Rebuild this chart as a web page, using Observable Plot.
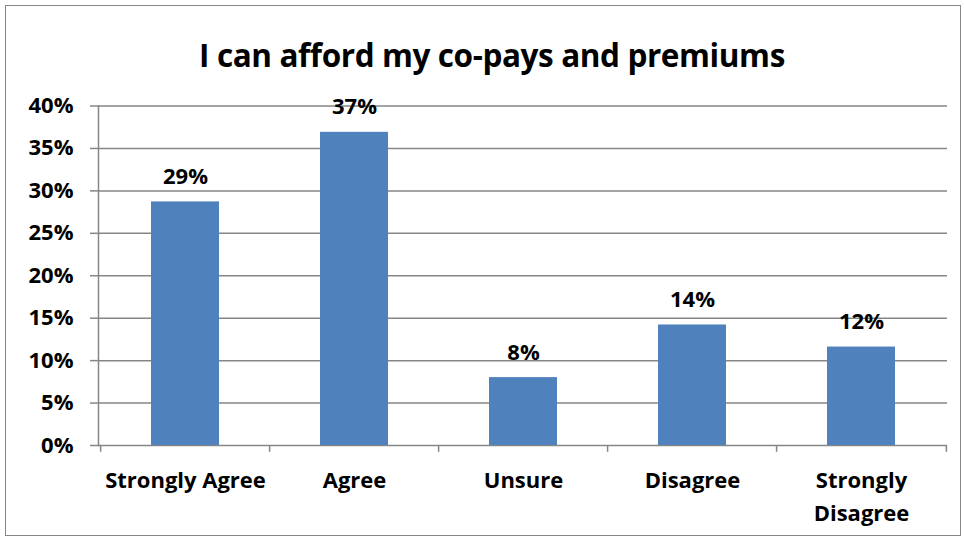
<!DOCTYPE html>
<html>
<head>
<meta charset="utf-8">
<script src="https://cdn.jsdelivr.net/npm/d3@7"></script>
<script src="https://cdn.jsdelivr.net/npm/@observablehq/plot@0.6"></script>
<style>
  html, body { margin: 0; padding: 0; background: #fff; }
  #wrap { position: relative; width: 964px; height: 541px; overflow: hidden; font-family: "Open Sans", sans-serif; }
  #border { position: absolute; left: 5px; top: 5px; width: 956px; height: 531px; border: 1px solid #868686; box-sizing: border-box; }
  #title { position: absolute; left: 0; width: 984px; top: 33px; text-align: center; font-weight: 700; font-size: 31.5px; line-height: 44px; color: #000; letter-spacing: -0.4px; }
  #chart { position: absolute; left: 0; top: 0; }
</style>
</head>
<body>
<div id="wrap">
  <div id="border"></div>
  <div id="chart"></div>
  <div id="title"></div>
</div>
<script>
const titleText = "I can afford my co-pays and premiums";
const categories = ["Strongly Agree", "Agree", "Unsure", "Disagree", "Strongly Disagree"];
const categoryLabels = ["Strongly Agree", "Agree", "Unsure", "Disagree", "Strongly\nDisagree"];
const values = [0.287, 0.369, 0.080, 0.142, 0.116];
const yTicks = [0, 0.05, 0.10, 0.15, 0.20, 0.25, 0.30, 0.35, 0.40];

document.getElementById("title").textContent = titleText;

const data = categories.map((c, i) => ({cat: c, label: categoryLabels[i], value: values[i]}));
const grid = "#868686";
const font = "Open Sans, sans-serif";
const W = 964, H = 541, mL = 98, mR = 17;
const step = (W - mL - mR) / categories.length;
const fs = 22;

const chart = Plot.plot({
  width: W,
  height: H,
  marginLeft: mL,
  marginRight: mR,
  marginTop: 105.5,
  marginBottom: 96,
  style: {fontFamily: font, color: "#000", background: "transparent"},
  x: {domain: categories, paddingInner: 0.6, paddingOuter: 0.3, axis: null},
  y: {domain: [0, 0.40], ticks: yTicks, axis: null},
  marks: [
    Plot.ruleY(yTicks, {y: d => d, stroke: grid, strokeWidth: 1.5}),
    Plot.axisY({ticks: yTicks, tickSize: 8, tickPadding: 17, stroke: grid, strokeWidth: 1.5, label: null,
      tickFormat: d => Math.round(d * 100) + "%", fontSize: fs, fontWeight: "bold", fill: "#000"}),
    Plot.frame({anchor: "left", stroke: grid, strokeWidth: 1.5}),
    Plot.ruleX(categories, {x: d => d, dx: -step / 2, y1: 0, y2: -0.008, stroke: grid, strokeWidth: 1.5}),
    Plot.ruleX(categories.slice(-1), {x: d => d, dx: step / 2, y1: 0, y2: -0.008, stroke: grid, strokeWidth: 1.5}),
    Plot.barY(data, {x: "cat", y: "value", fill: "#4F81BD"}),
    Plot.text(data, {x: "cat", y: "value", text: d => Math.round(d.value * 100) + "%", dy: -25,
      lineAnchor: "middle", fontSize: fs, fontWeight: "bold", fill: "#000"}),
    Plot.text(data, {x: "cat", y: 0, text: "label", dy: 19, lineAnchor: "top", lineHeight: 1.5,
      fontSize: fs, fontWeight: "bold", fill: "#000", letterSpacing: "-0.3px"})
  ]
});
document.getElementById("chart").appendChild(chart);
</script>
</body>
</html>
